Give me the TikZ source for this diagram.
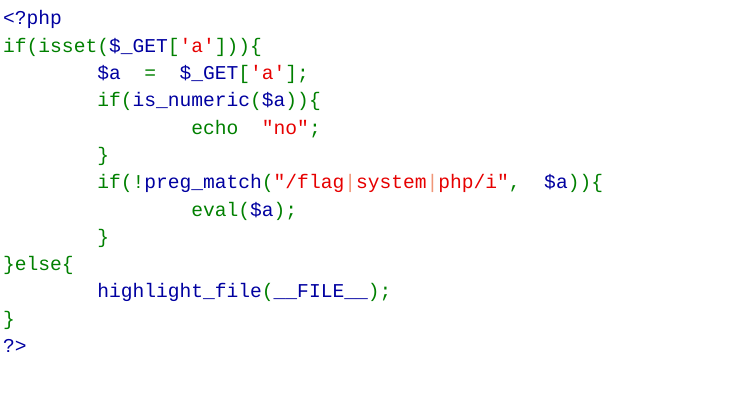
\documentclass[tikz,border=0pt]{standalone}
\usepackage{fontspec}
\newfontfamily\code{Liberation Mono}
\definecolor{cg}{RGB}{0,128,0}
\definecolor{cb}{RGB}{0,0,160}
\definecolor{cr}{RGB}{230,0,0}
\definecolor{co}{RGB}{240,150,120}
\newcommand\G[1]{\textcolor{cg}{#1}}
\newcommand\B[1]{\textcolor{cb}{#1}}
\newcommand\R[1]{\textcolor{cr}{#1}}
\newcommand\D{\textdollar}
\tikzset{ln/.style={anchor=base west,inner sep=0pt,font=\code\fontsize{19.6}{20}\selectfont}}
\begin{document}
\begin{tikzpicture}[x=1pt,y=-1pt]
\useasboundingbox (0,0) rectangle (756,409);
\node[ln] (l1) at (3,25) {\B{<?php}};
\node[ln] (l2) at (3,52.3) {\G{if(isset(}\B{\D\_GET}\G{[}\R{'a'}\G{]))\{}};
\node[ln] (l3) at (3,79.6) {~~~~~~~~\B{\D{}a}~~\G{=}~~\B{\D\_GET}\G{[}\R{'a'}\G{];}};
\node[ln] (l4) at (3,106.9) {~~~~~~~~\G{if(}\B{is\_numeric}\G{(}\B{\D{}a}\G{))\{}};
\node[ln] (l5) at (3,134.2) {~~~~~~~~~~~~~~~~\G{echo}~~\R{"no"}\G{;}};
\node[ln] (l6) at (3,161.5) {~~~~~~~~\G{\}}};
\node[ln] (l7) at (3,188.8) {~~~~~~~~\G{if(!}\B{preg\_match}\G{(}\R{"/flag}\textcolor{co}{|}\R{system}\textcolor{co}{|}\R{php/i"}\G{,}~~\B{\D{}a}\G{))\{}};
\node[ln] (l8) at (3,216.1) {~~~~~~~~~~~~~~~~\G{eval(}\B{\D{}a}\G{);}};
\node[ln] (l9) at (3,243.4) {~~~~~~~~\G{\}}};
\node[ln] (l10) at (3,270.7) {\G{\}else\{}};
\node[ln] (l11) at (3,298) {~~~~~~~~\B{highlight\_file}\G{(}\B{\_\_FILE\_\_}\G{);}};
\node[ln] (l12) at (3,325.3) {\G{\}}};
\node[ln] (l13) at (3,352.6) {\B{?>}};
\end{tikzpicture}
\end{document}
